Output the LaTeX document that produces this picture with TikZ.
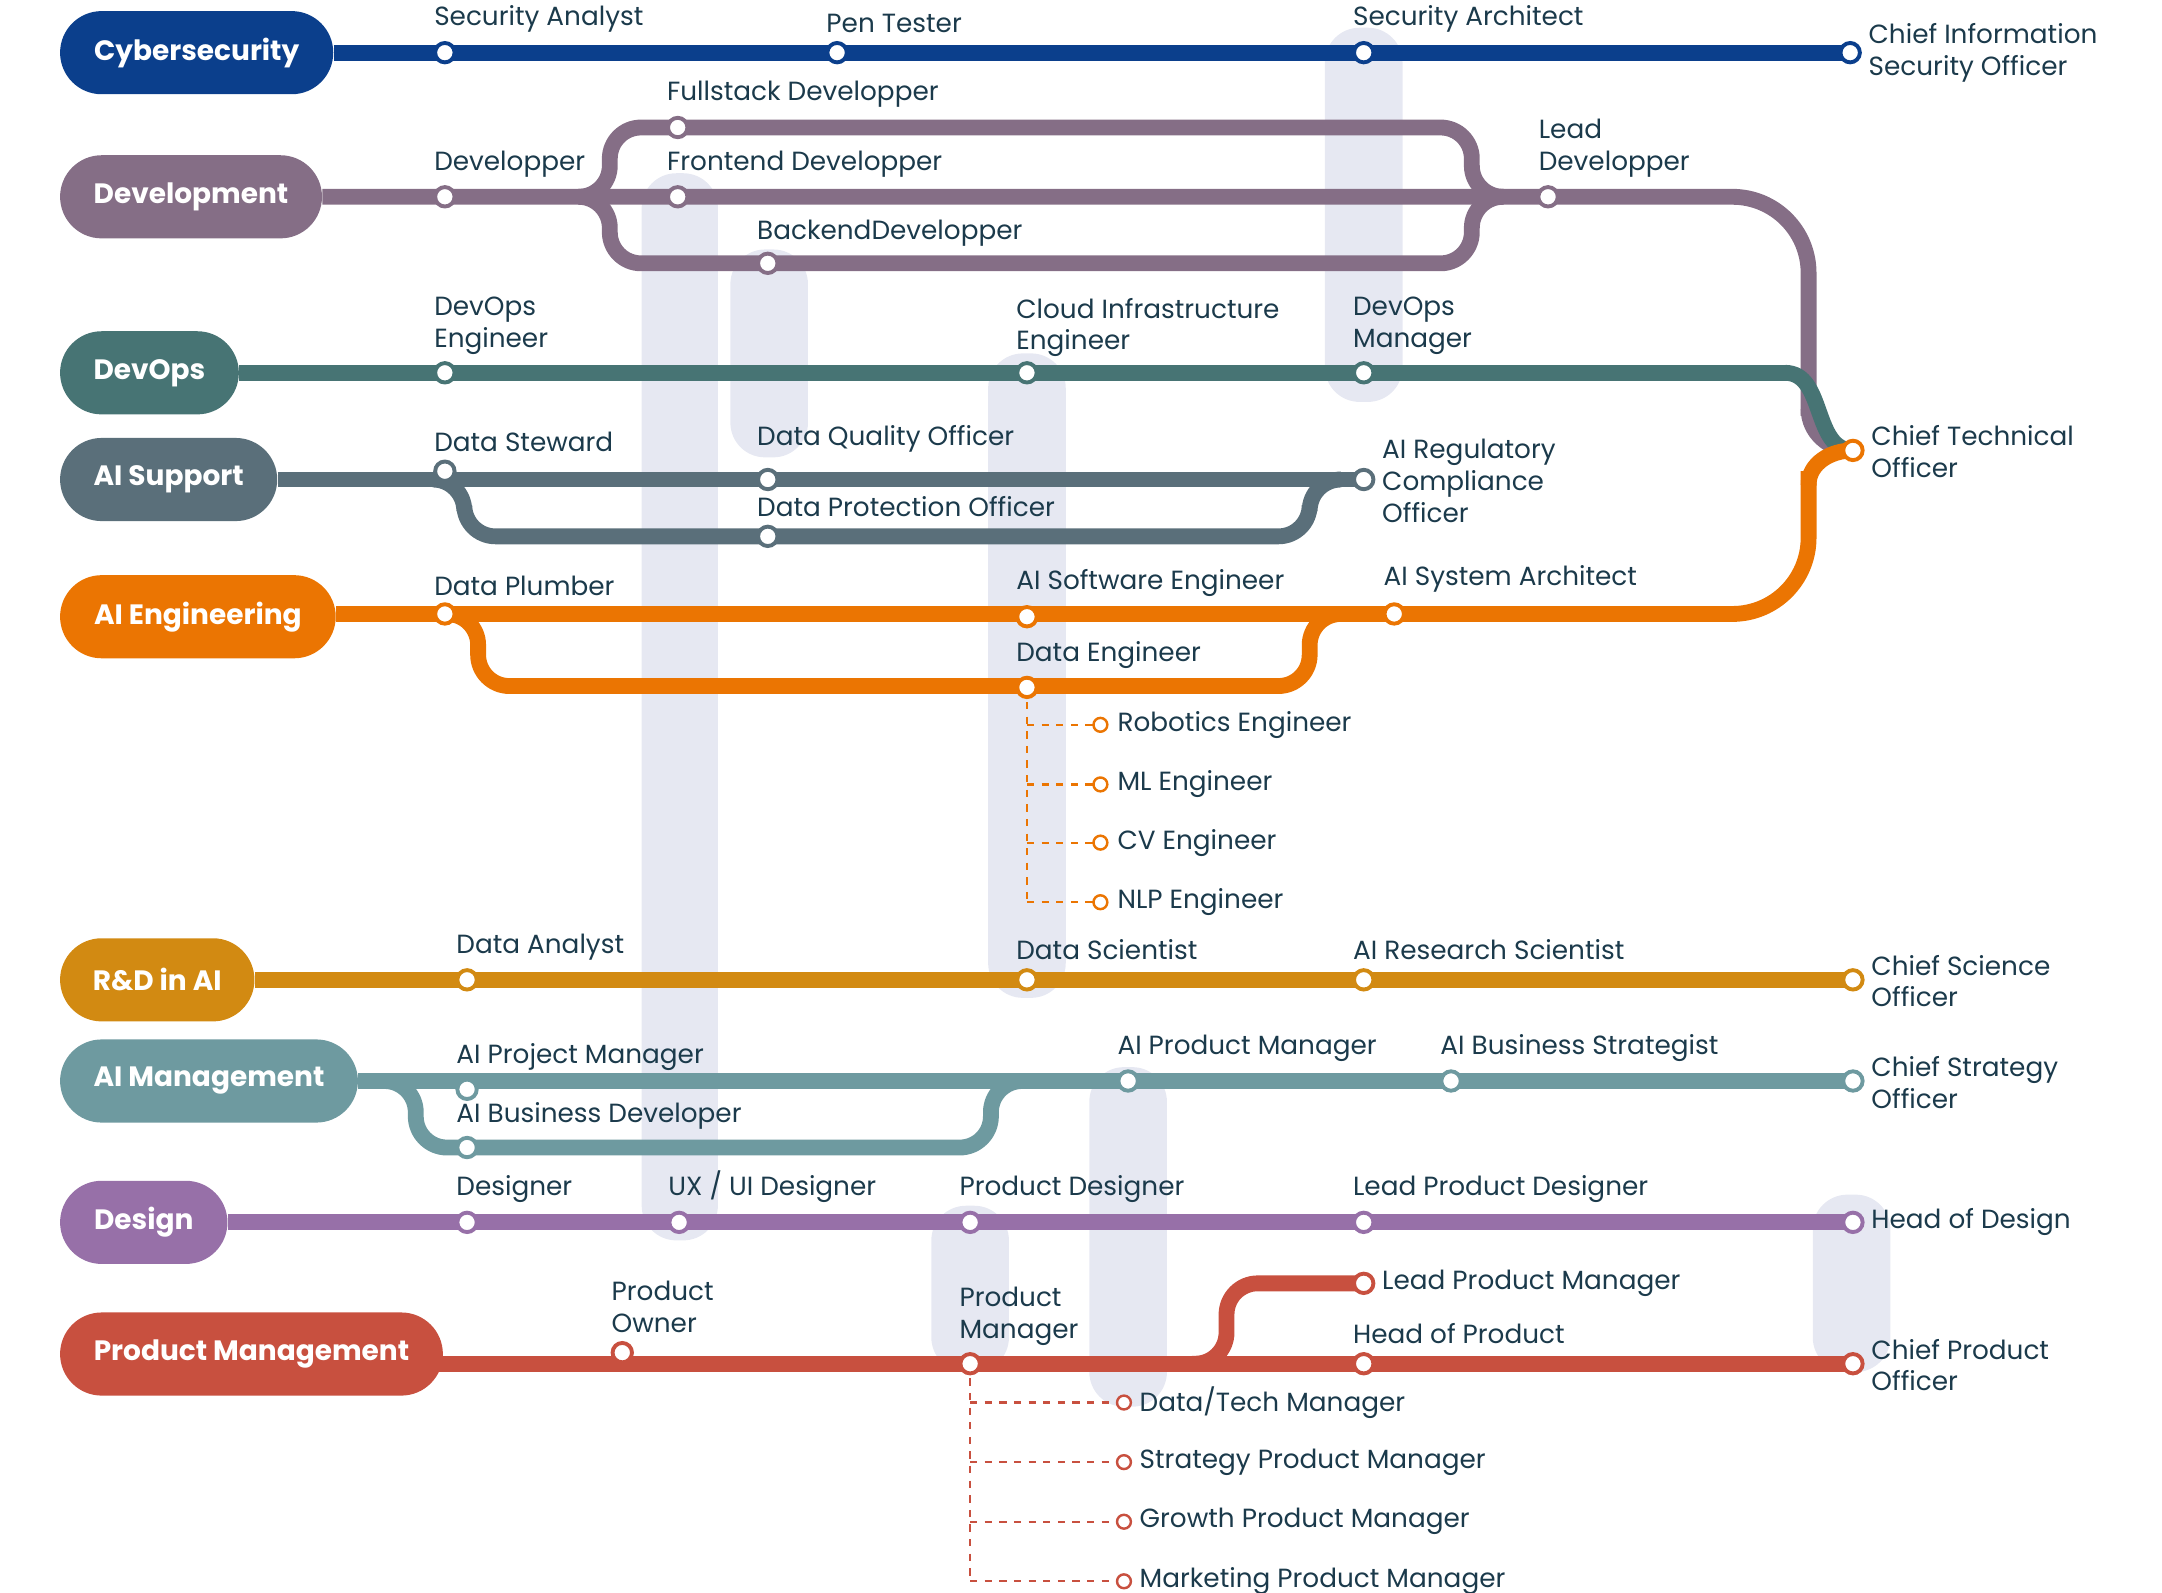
\documentclass[tikz,border=0pt]{standalone}
\usepackage{fontspec}
\setmainfont{Poppins}
\usetikzlibrary{shapes.misc}
\definecolor{cyber}{HTML}{0B3F8C}
\definecolor{devel}{HTML}{856E86}
\definecolor{devops}{HTML}{477474}
\definecolor{aisup}{HTML}{5A6F7A}
\definecolor{aieng}{HTML}{EB7502}
\definecolor{rnd}{HTML}{D28A12}
\definecolor{aimgt}{HTML}{6E9AA0}
\definecolor{design}{HTML}{9770A8}
\definecolor{prod}{HTML}{C8503F}
\definecolor{ink}{HTML}{1B3A4B}
\definecolor{colbg}{HTML}{E6E8F2}
\tikzset{
  pill/.style={rounded rectangle,fill=#1,text=white,font=\fontsize{11.5}{13}\selectfont\bfseries,
    minimum height=1.2cm,inner xsep=0.45cm,anchor=west},
  track/.style={draw=#1,line width=6.5pt,rounded corners=0.45cm},
  st/.style={circle,draw=#1,fill=white,line width=1.6pt,inner sep=0pt,minimum size=0.28cm},
  leaf/.style={circle,draw=#1,fill=white,solid,line width=1pt,inner sep=0pt,minimum size=0.2cm},
  twig/.style={draw=#1,dashed,line width=0.9pt},
  lbl/.style={text=ink,font=\fontsize{10.8}{13}\selectfont,inner sep=0pt,align=left,anchor=south west},
  rlbl/.style={text=ink,font=\fontsize{10.8}{13}\selectfont,inner sep=0pt,align=left,anchor=west},
}
\begin{document}
\begin{tikzpicture}[x=0.02cm,y=-0.02cm]
\useasboundingbox (0,0) rectangle (1560,1149);
% columns
\foreach \xa/\ya/\xb/\yb in {463/125/518/895,527/180/583/330,956/20/1012/290,713/255/769/720,786/770/842/1015,672/870/728/990,1308/862/1364/990}
  \fill[colbg,rounded corners=0.5cm] (\xa,\ya) rectangle (\xb,\yb);

% line heads
\node[pill=cyber] (cyb) at (43,38) {Cybersecurity};
\node[pill=devel] (dev) at (43,142) {Development};
\node[pill=devops] (dop) at (43,269) {DevOps};
\node[pill=aisup] (sup) at (43,346) {AI Support};
\node[pill=aieng] (eng) at (43,445) {AI Engineering};
\node[pill=rnd] (rnd) at (43,707) {R\&D in AI};
\node[pill=aimgt] (mgt) at (43,780) {AI Management};
\node[pill=design] (des) at (43,882) {Design};
\node[pill=prod] (pm) at (43,977) {Product Management};

% stations
\coordinate (ciso) at (1335,38);
\coordinate (cto) at (1337,325);
\coordinate (cso) at (1337,707);
\coordinate (chso) at (1337,780);
\coordinate (hod) at (1337,882);
\coordinate (cpo) at (1337,984);
\coordinate (lead) at (1117,142);
\coordinate (regu) at (984,346);
\coordinate (deng) at (741,496);
\coordinate (pman) at (700,984);
\coordinate (lpm) at (984,926);
\coordinate (asa) at (1006,443);

% tracks
\draw[track=cyber] (cyb.east) -- (ciso);
\draw[track=devel] (420,142) -- (440,142) -- (440,92) -- (1062,92) -- (1062,142) -- (1085,142);
\draw[track=devel] (420,142) -- (440,142) -- (440,190) -- (1062,190) -- (1062,142) -- (1085,142);
\draw[track=devel,rounded corners=1.1cm] (dev.east) -- (lead) -- (1305,142) -- (1305,300);
\draw[devel,line width=6.5pt] (1305,295) to[out=-90,in=180] (cto);
\draw[track=devops] (dop.east) -- (1290,269);
\draw[devops,line width=6.5pt] (1288,269) to[out=0,in=180] (cto);
\draw[track=aisup] (321,346) -- (335,346) -- (335,387) -- (945,387) -- (945,346) -- (965,346);
\draw[track=aisup] (sup.east) -- (regu);
\draw[track=aieng] (321,443) -- (345,443) -- (345,495) -- (945,495) -- (945,443) -- (970,443);
\draw[track=aieng,rounded corners=1.1cm] (eng.east |- asa) -- (1305,443) -- (1305,340);
\draw[aieng,line width=6.5pt] (1305,350) to[out=90,in=180] (cto);
\draw[track=rnd] (rnd.east) -- (cso);
\draw[track=aimgt] (260,780) -- (300,780) -- (300,828) -- (715,828) -- (715,780) -- (740,780);
\draw[track=aimgt] (mgt.east) -- (chso);
\draw[track=design] (des.east) -- (hod);
\draw[track=prod] (860,984) -- (885,984) -- (885,926) -- (lpm);
\draw[track=prod] ([xshift=-10pt]pm.east |- cpo) -- (cpo);

% dashed offshoots
\draw[twig=aieng] (deng) -- (741,651);
\foreach \y in {523,566,608,651} \draw[twig=aieng] (741,\y) -- (794,\y) node[leaf=aieng] {};
\draw[twig=prod] (pman) -- (700,1141);
\foreach \y in {1012,1055,1098,1141} \draw[twig=prod] (700,\y) -- (811,\y) node[leaf=prod] {};

\foreach \x/\y in {321/38,604/38,984/38,1335/38} \node[st=cyber] at (\x,\y) {};
\foreach \x/\y in {321/142,489/142,489/92,554/190,1117/142} \node[st=devel] at (\x,\y) {};
\foreach \x/\y in {321/269,741/269,984/269} \node[st=devops] at (\x,\y) {};
\foreach \x/\y in {321/340,554/346,554/387,984/346} \node[st=aisup] at (\x,\y) {};
\foreach \x/\y in {321/443,741/445,1006/443,741/496,1337/325} \node[st=aieng] at (\x,\y) {};
\foreach \x/\y in {337/707,741/707,984/707,1337/707} \node[st=rnd] at (\x,\y) {};
\foreach \x/\y in {337/786,337/828,814/780,1047/780,1337/780} \node[st=aimgt] at (\x,\y) {};
\foreach \x/\y in {337/882,490/882,700/882,984/882,1337/882} \node[st=design] at (\x,\y) {};
\foreach \x/\y in {449/976,700/984,984/984,984/926,1337/984} \node[st=prod] at (\x,\y) {};

% labels
\node[lbl] at (313,24) {Security Analyst};
\node[lbl] at (596,24) {Pen Tester};
\node[lbl] at (976,24) {Security Architect};
\node[rlbl] at (1348,38) {Chief Information\\Security Officer};
\node[lbl] at (481,78) {Fullstack Developper};
\node[lbl] at (313,128) {Developper};
\node[lbl] at (481,128) {Frontend Developper};
\node[lbl] at (546,178) {BackendDevelopper};
\node[lbl] at (1110,128) {Lead\\Developper};
\node[lbl] at (313,256) {DevOps\\Engineer};
\node[lbl] at (733,258) {Cloud Infrastructure\\Engineer};
\node[lbl] at (976,256) {DevOps\\Manager};
\node[rlbl] at (1350,326) {Chief Technical\\Officer};
\node[lbl] at (313,326) {Data Steward};
\node[lbl] at (546,327) {Data Quality Officer};
\node[lbl] at (546,373) {Data Protection Officer};
\node[rlbl] at (997,347) {AI Regulatory\\Compliance\\Officer};
\node[lbl] at (313,430) {Data Plumber};
\node[lbl] at (733,431) {AI Software Engineer};
\node[lbl] at (998,428) {AI System Architect};
\node[lbl] at (733,483) {Data Engineer};
\node[rlbl] at (806,523) {Robotics Engineer};
\node[rlbl] at (806,566) {ML Engineer};
\node[rlbl] at (806,608) {CV Engineer};
\node[rlbl] at (806,651) {NLP Engineer};
\node[lbl] at (329,693) {Data Analyst};
\node[lbl] at (733,693) {Data Scientist};
\node[lbl] at (976,693) {AI Research Scientist};
\node[rlbl] at (1350,708) {Chief Science\\Officer};
\node[lbl] at (329,773) {AI Project Manager};
\node[lbl] at (329,815) {AI Business Developer};
\node[lbl] at (806,766) {AI Product Manager};
\node[lbl] at (1039,766) {AI Business Strategist};
\node[rlbl] at (1350,781) {Chief Strategy\\Officer};
\node[lbl] at (329,868) {Designer};
\node[lbl] at (482,868) {UX / UI Designer};
\node[lbl] at (692,868) {Product Designer};
\node[lbl] at (976,868) {Lead Product Designer};
\node[rlbl] at (1350,882) {Head of Design};
\node[lbl] at (441,962) {Product\\Owner};
\node[lbl] at (692,971) {Product\\Manager};
\node[rlbl] at (997,926) {Lead Product Manager};
\node[lbl] at (976,970) {Head of Product};
\node[rlbl] at (1350,985) {Chief Product\\Officer};
\node[rlbl] at (822,1012) {Data/Tech Manager};
\node[rlbl] at (822,1055) {Strategy Product Manager};
\node[rlbl] at (822,1098) {Growth Product Manager};
\node[rlbl] at (822,1141) {Marketing Product Manager};
\end{tikzpicture}
\end{document}
